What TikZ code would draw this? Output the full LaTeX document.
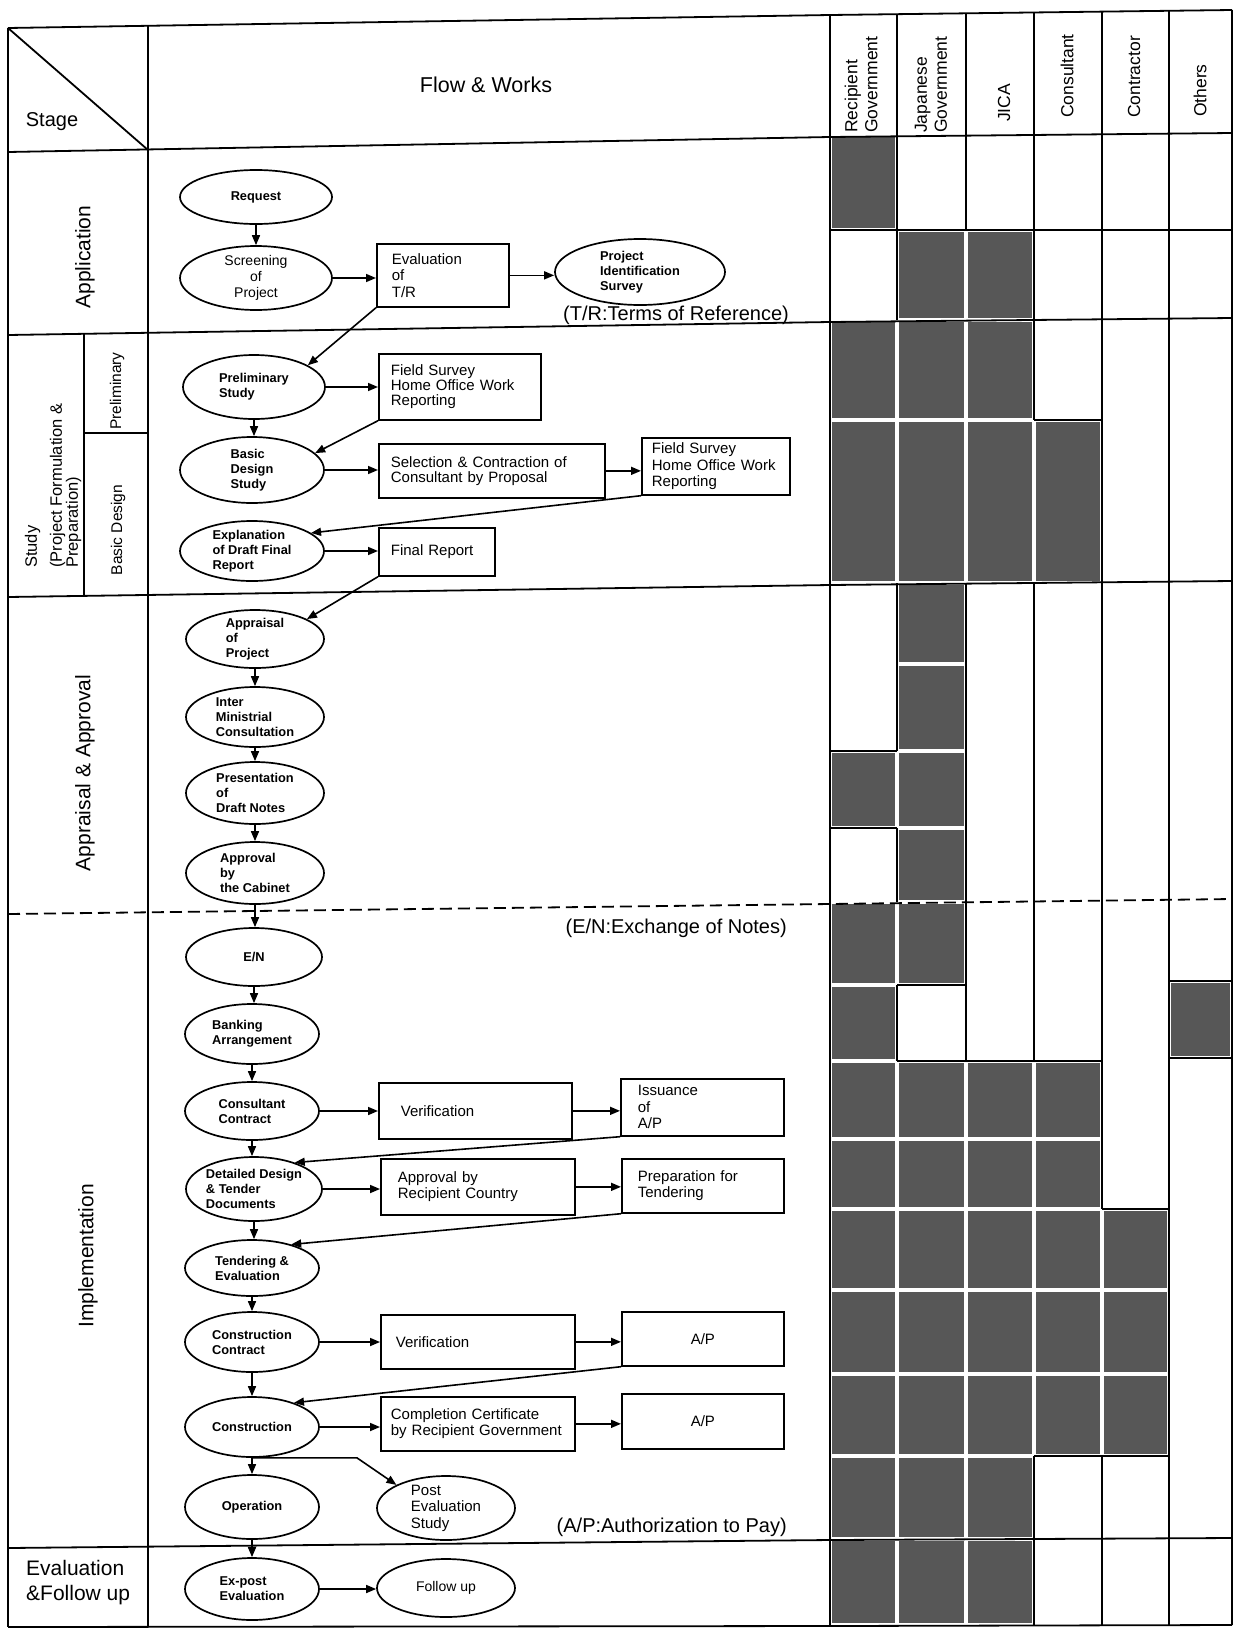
\documentclass[tikz,border=0pt]{standalone}
\usepackage{fontspec}
\setmainfont{Liberation Sans}
\usetikzlibrary{shapes.geometric,arrows.meta}
\newcommand{\fsz}[2]{\fontsize{#1pt}{#2pt}\selectfont}
\begin{document}
\begin{tikzpicture}[x=1pt,y=-1pt,
  ln/.style={line width=1.8pt},
  ell/.style={ellipse, draw, line width=1.7pt, inner xsep=0pt, inner ysep=-4pt, align=left, font=\fsz{12.8}{15}\bfseries},
  bx/.style={rectangle, draw, line width=1.7pt, anchor=north west, align=left, inner ysep=0pt, font=\fsz{15}{16.5}},
  arr/.style={line width=1.6pt, -{Triangle[length=10pt,width=8pt]}},
  shadecell/.style={fill=black!66},
  lbl/.style={inner sep=0pt},
  role/.style={rotate=90, anchor=west, align=left, inner sep=0pt, font=\fsz{17.5}{20}},
  notetxt/.style={anchor=east, inner sep=0pt, font=\fsz{20}{22}},
]
\useasboundingbox (0,0) rectangle (1234,1628);
\fill[white] (0,0) rectangle (1234,1628);

% ---------- shaded cells ----------
\foreach \xa/\xb/\ya/\yb in {830/897/135/230, 897/966/230/320, 966/1034/230/320,
  830/897/320/420, 897/966/320/420, 966/1034/320/420,
  830/897/420/583, 897/966/420/583, 966/1034/420/583, 1034/1102/420/583,
  897/966/583/664, 897/966/664/751, 830/897/751/828, 897/966/751/828,
  897/966/828/902, 830/897/902/985, 897/966/902/985, 830/897/985/1061,
  1169/1232/981/1058}
  \fill[shadecell] ({\xa+2.2},{\ya+2.2}) rectangle ({\xb-2.2},{\yb-2.2});
\foreach \ya/\yb in {1061/1139,1139/1209}
  \foreach \xa/\xb in {830/897,897/966,966/1034,1034/1102}
    \fill[shadecell] ({\xa+2.2},{\ya+2.2}) rectangle ({\xb-2.2},{\yb-2.2});
\foreach \ya/\yb in {1209/1290,1290/1374,1374/1456}
  \foreach \xa/\xb in {830/897,897/966,966/1034,1034/1102,1102/1169}
    \fill[shadecell] ({\xa+2.2},{\ya+2.2}) rectangle ({\xb-2.2},{\yb-2.2});
\foreach \ya/\yb in {1456/1539,1539/1625}
  \foreach \xa/\xb in {830/897,897/966,966/1034}
    \fill[shadecell] ({\xa+2.2},{\ya+2.2}) rectangle ({\xb-2.2},{\yb-2.2});

% ---------- frame ----------
\draw[ln] (8,28) -- (830,15) -- (1232,10);
\draw[ln] (8,28) -- (8,1627);
\draw[ln] (148,26) -- (148,1627);
\draw[ln] (8,28) -- (148,150);
\draw[ln] (8,152) -- (830,137) -- (1232,133);
\draw[ln] (8,335) -- (830,322) -- (1232,318);
\draw[ln] (8,597) -- (830,585) -- (1232,581);
\draw[ln, dash pattern=on 12pt off 6pt] (8,914) -- (830,904) -- (1232,899);
\draw[ln] (8,1548) -- (830,1540) -- (1232,1538);
\draw[ln] (8,1627) -- (830,1626) -- (1232,1625);
\draw[ln] (84,334) -- (84,596);
\draw[ln] (84,433) -- (148,433);

% ---------- grid ----------
\draw[ln] (830,15) -- (830,1626);
\draw[ln] (897,14) -- (897,320) (897,583) -- (897,751) (897,828) -- (897,902) (897,985) -- (897,1061);
\draw[ln] (966,13) -- (966,230) (966,583) -- (966,1061);
\draw[ln] (1034,12.5) -- (1034,420) (1034,583) -- (1034,1061) (1034,1456) -- (1034,1625);
\draw[ln] (1102,11.6) -- (1102,1209) (1102,1456) -- (1102,1625);
\draw[ln] (1169,10.8) -- (1169,1625);
\draw[ln] (1232,10) -- (1232,1625);
\draw[ln] (830,230) -- (1232,230);
\draw[ln] (1034,420) -- (1102,420);
\draw[ln] (830,751) -- (897,751) (830,828) -- (897,828);
\draw[ln] (897,985) -- (966,985);
\draw[ln] (897,1061) -- (1102,1061);
\draw[ln] (1102,1209) -- (1169,1209);
\draw[ln] (1034,1456) -- (1169,1456);
\draw[ln] (1169,981) rectangle (1232,1058);

% ---------- headers ----------
\node[lbl, font=\fsz{20}{22}] (stg) at (52,122) {Stage};
\node[lbl, font=\fsz{21.5}{24}] (flw) at (486,85) {Flow \& Works};
\node[role] (rRG) at (861,133) {Recipient\\Government};
\node[role] (rJG) at (931,133) {Japanese\\Government};
\node[role] (rJI) at (1004,122) {JICA};
\node[role] (rCo) at (1067,118) {Consultant};
\node[role] (rCt) at (1134,118) {Contractor};
\node[role] (rOt) at (1200,117) {Others};

% ---------- stage labels ----------
\node[lbl, rotate=90, font=\fsz{21}{24}] (sApp) at (85,257) {Application};
\node[lbl, rotate=90, anchor=west, align=left, font=\fsz{16.5}{16}] (sStudy) at (53,568) {Study\\[9pt](Project Formulation \&\\Preparation)};
\node[lbl, rotate=90, font=\fsz{15.5}{17}] (sPre) at (117,391) {Preliminary};
\node[lbl, rotate=90, font=\fsz{15.5}{17}] (sBD) at (118,530) {Basic Design};
\node[lbl, rotate=90, font=\fsz{21}{24}] (sAA) at (85,773) {Appraisal \& Approval};
\node[lbl, rotate=90, font=\fsz{21}{24}] (sImp) at (88,1256) {Implementation};
\node[lbl, anchor=west, align=left, font=\fsz{21}{25}] (sEv) at (26,1583) {Evaluation\\\&Follow up};

% ---------- notes ----------
\node[notetxt] (nTR) at (789,315) {(T/R:Terms of Reference)};
\node[notetxt] (nEN) at (787,928) {(E/N:Exchange of Notes)};
\node[notetxt] (nAP) at (787,1527) {(A/P:Authorization to Pay)};

% ---------- ellipses ----------
\node[ell, minimum width=152pt, minimum height=54pt] (req) at (256,197) {Request};
\node[ell, align=center, font=\fsz{14}{16}, minimum width=152pt, minimum height=64pt] (scr) at (256,278) {Screening\\of\\Project};
\node[ell, minimum width=170pt, minimum height=66pt] (pis) at (640,272) {Project\\Identification\\Survey};
\node[ell, minimum width=142pt, minimum height=64pt] (pre) at (254,387) {Preliminary\\Study};
\node[ell, minimum width=144pt, minimum height=66pt] (bds) at (252,470) {Basic\\Design\\Study};
\node[ell, minimum width=144pt, minimum height=60pt] (exp) at (252,551) {Explanation\\of Draft Final\\Report};
\node[ell, minimum width=138pt, minimum height=58pt] (apj) at (255,639) {Appraisal\\of\\Project};
\node[ell, minimum width=138pt, minimum height=60pt] (imc) at (255,717) {Inter\\Ministrial\\Consultation};
\node[ell, minimum width=138pt, minimum height=62pt] (pdn) at (255,793) {Presentation\\of\\Draft Notes};
\node[ell, minimum width=138pt, minimum height=62pt] (abc) at (255,873) {Approval\\by\\the Cabinet};
\node[ell, minimum width=136pt, minimum height=58pt] (en) at (254,957) {E/N};
\node[ell, minimum width=134pt, minimum height=60pt] (bank) at (252,1034) {Banking\\Arrangement};
\node[ell, minimum width=134pt, minimum height=58pt] (cc) at (252,1111) {Consultant\\Contract};
\node[ell, minimum width=136pt, minimum height=64pt] (dd) at (254,1189) {Detailed Design\\\& Tender\\Documents};
\node[ell, minimum width=134pt, minimum height=56pt] (ten) at (252,1268) {Tendering \&\\Evaluation};
\node[ell, minimum width=134pt, minimum height=60pt] (ccon) at (252,1342) {Construction\\Contract};
\node[ell, minimum width=134pt, minimum height=60pt] (con) at (252,1427) {Construction};
\node[ell, minimum width=134pt, minimum height=64pt] (op) at (252,1507) {Operation};
\node[ell, font=\fsz{15}{16.5}, minimum width=138pt, minimum height=64pt] (pe) at (446,1508) {Post\\Evaluation\\Study};
\node[ell, minimum width=134pt, minimum height=62pt] (exe) at (252,1589) {Ex-post\\Evaluation};
\node[ell, font=\fsz{14}{16}, minimum width=138pt, minimum height=58pt] (fu) at (446,1588) {Follow up};

% ---------- boxes ----------
\node[bx, minimum width=132pt, minimum height=63pt, text width=102pt, inner xsep=15pt] (evt) at (376,243) {Evaluation\\of\\T/R};
\node[bx, font=\fsz{15}{15}, minimum width=162pt, minimum height=66pt, text width=138pt, inner xsep=12pt] (fs1) at (378,353) {Field Survey\\Home Office Work\\Reporting};
\node[bx, font=\fsz{15}{15}, minimum width=226pt, minimum height=54pt, text width=202pt, inner xsep=12pt] (sel) at (378,443) {Selection \& Contraction of\\Consultant by Proposal};
\node[bx, minimum width=148pt, minimum height=57pt, text width=128pt, inner xsep=10pt] (fs2) at (641,437) {Field Survey\\Home Office Work\\Reporting};
\node[bx, minimum width=116pt, minimum height=48pt, text width=92pt, inner xsep=12pt] (fr) at (378,527) {Final Report};
\node[bx, minimum width=193pt, minimum height=56pt, text width=149pt, inner xsep=22pt] (ver1) at (378,1082) {Verification};
\node[bx, minimum width=163pt, minimum height=57pt, text width=129pt, inner xsep=17pt] (iss) at (620,1078) {Issuance\\of\\A/P};
\node[bx, minimum width=194pt, minimum height=56pt, text width=160pt, inner xsep=17pt] (apr) at (380,1158) {Approval by\\Recipient Country};
\node[bx, minimum width=162pt, minimum height=54pt, text width=130pt, inner xsep=16pt] (prep) at (621,1158) {Preparation for\\Tendering};
\node[bx, minimum width=194pt, minimum height=54pt, text width=164pt, inner xsep=15pt] (ver2) at (380,1314) {Verification};
\node[bx, align=center, minimum width=162pt, minimum height=54pt, text width=130pt, inner xsep=16pt] (ap1) at (621,1311) {A/P};
\node[bx, minimum width=194pt, minimum height=54pt, text width=174pt, inner xsep=10pt] (comp) at (380,1396) {Completion Certificate\\by Recipient Government};
\node[bx, align=center, minimum width=162pt, minimum height=55pt, text width=130pt, inner xsep=16pt] (ap2) at (621,1393) {A/P};

% ---------- connectors ----------
\draw[arr] (req.south) -- (req.south |- scr.north);
\draw[arr] (scr.east) -- (scr.east -| evt.west);
\draw[arr] (evt.east) -- (evt.east -| pis.west);
\draw[arr] (evt.south west) -- (pre.22);
\draw[arr] (pre.east) -- (pre.east -| fs1.west);
\draw[arr] (pre.south) -- (pre.south |- bds.north);
\draw[arr] (fs1.south west) -- (bds.15);
\draw[arr] (bds.east) -- (bds.east -| sel.west);
\draw[arr] (sel.east) -- (sel.east -| fs2.west);
\draw[arr] (fs2.south west) -- (exp.17);
\draw[arr] (exp.east) -- (exp.east -| fr.west);
\draw[arr] (fr.south west) -- (apj.21);
\draw[arr] (apj.south) -- (apj.south |- imc.north);
\draw[arr] (imc.south) -- (imc.south |- pdn.north);
\draw[arr] (pdn.south) -- (pdn.south |- abc.north);
\draw[arr] (abc.south) -- (abc.south |- en.north);
\draw[arr] (en.south) -- (en.south |- bank.north);
\draw[arr] (bank.south) -- (bank.south |- cc.north);
\draw[arr] (cc.east) -- (cc.east -| ver1.west);
\draw[arr] (ver1.east) -- (ver1.east -| iss.west);
\draw[arr] (iss.south west) -- (dd.33);
\draw[arr] (cc.south) -- (cc.south |- dd.north);
\draw[arr] (dd.east) -- (dd.east -| apr.west);
\draw[arr] (apr.east) -- (apr.east -| prep.west);
\draw[arr] (prep.south west) -- (ten.31);
\draw[arr] (dd.south) -- (dd.south |- ten.north);
\draw[arr] (ten.south) -- (ten.south |- ccon.north);
\draw[arr] (ccon.east) -- (ccon.east -| ver2.west);
\draw[arr] (ver2.east) -- (ver2.east -| ap1.west);
\draw[arr] (ap1.south west) -- (con.30);
\draw[arr] (ccon.south) -- (ccon.south |- con.north);
\draw[arr] (con.east) -- (con.east -| comp.west);
\draw[arr] (comp.east) -- (comp.east -| ap2.west);
\draw[arr] (con.south) -- (con.south |- op.north);
\draw[arr] (con.south) -- ++(105,0) -- (pe.155);
\draw[arr] (op.south) -- (op.south |- exe.north);
\draw[arr] (exe.east) -- (exe.east -| fu.west);
\end{tikzpicture}
\end{document}
